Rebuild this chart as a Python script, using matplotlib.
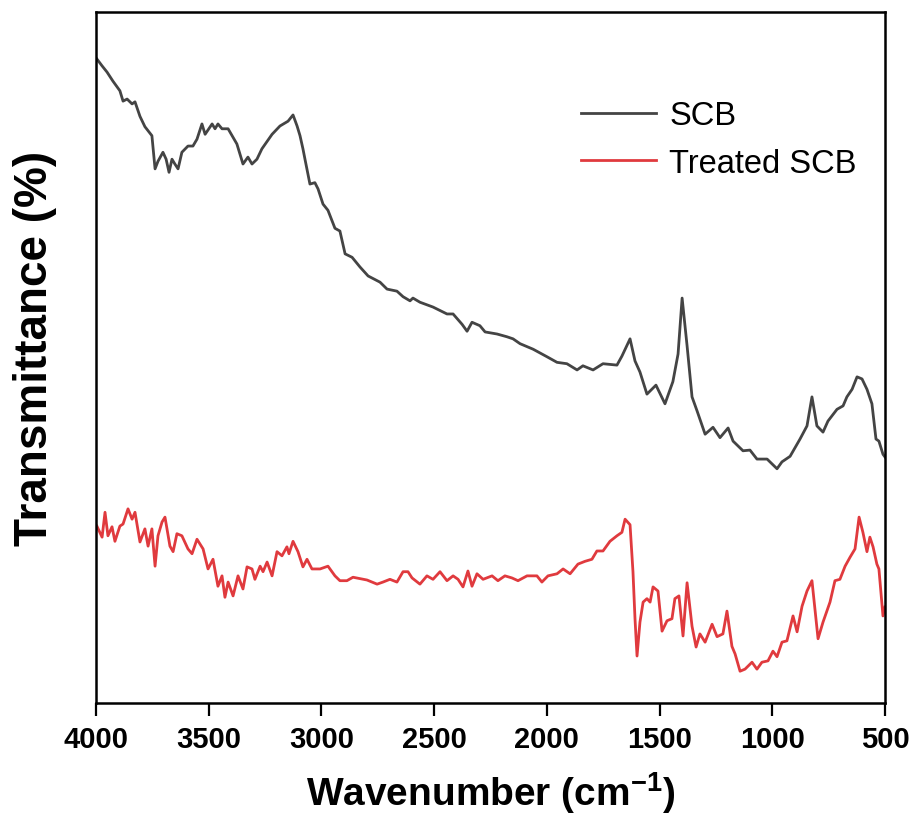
import numpy as np
import matplotlib.pyplot as plt
from matplotlib import font_manager

# FTIR spectra (transmittance in arbitrary % units)
scb_wn = [3996, 3973, 3951, 3925, 3894, 3880, 3862, 3840, 3827, 3805, 3783, 3752, 3738, 3725,
          3703, 3689, 3676, 3663, 3650, 3636, 3619, 3592, 3570, 3552, 3530, 3516, 3485, 3472,
          3459, 3441, 3414, 3375, 3348, 3326, 3308, 3286, 3264, 3219, 3184, 3148, 3126, 3108,
          3095, 3082, 3073, 3051, 3029, 3015, 2993, 2971, 2940, 2918, 2895, 2864, 2829, 2793,
          2740, 2709, 2665, 2638, 2607, 2594, 2563, 2505, 2443, 2416, 2376, 2354, 2332, 2297,
          2274, 2221, 2177, 2150, 2119, 2061, 1999, 1955, 1911, 1866, 1840, 1795, 1751, 1689,
          1667, 1631, 1609, 1587, 1556, 1516, 1476, 1441, 1418, 1400, 1378, 1356, 1334, 1298,
          1263, 1232, 1196, 1174, 1130, 1099, 1068, 1023, 979, 957, 921, 877, 846, 824, 802,
          775, 753, 713, 686, 669, 646, 624, 602, 580, 558, 540, 527, 509, 500]
scb_t = [93.2, 92.2, 91.3, 90.0, 88.6, 87.1, 87.4, 86.7, 87.0, 84.9, 83.4, 82.1, 77.3, 78.4,
         79.7, 78.7, 76.8, 78.7, 78.0, 77.3, 79.7, 80.6, 80.6, 81.6, 83.8, 82.3, 83.8, 83.1,
         83.8, 83.1, 83.1, 80.9, 78.0, 79.0, 78.0, 78.7, 80.2, 82.3, 83.5, 84.2, 85.1, 83.5,
         82.1, 80.2, 78.7, 75.1, 75.3, 74.4, 72.2, 71.3, 68.7, 68.3, 65.0, 64.5, 63.1, 61.8,
         60.9, 59.9, 59.6, 58.8, 58.2, 58.6, 58.0, 57.3, 56.3, 56.3, 54.8, 53.8, 55.1, 54.6,
         53.7, 53.4, 53.0, 52.7, 52.0, 51.2, 50.1, 49.3, 49.1, 48.2, 48.8, 48.2, 49.1, 48.9,
         50.2, 52.7, 49.5, 47.9, 44.7, 46.0, 43.3, 46.5, 50.5, 58.6, 51.7, 44.3, 42.3, 38.9,
         39.9, 38.4, 39.8, 37.9, 36.5, 36.6, 35.3, 35.3, 33.9, 34.9, 35.7, 38.2, 40.1, 44.3, 40.1,
         39.2, 40.8, 42.5, 43.0, 44.3, 45.4, 47.2, 46.9, 45.4, 43.3, 38.2, 37.9, 36.0, 35.6]

treated_wn = [3996, 3973, 3960, 3947, 3929, 3916, 3894, 3880, 3858, 3840, 3827, 3805, 3783, 3769,
              3752, 3738, 3725, 3707, 3694, 3672, 3658, 3641, 3619, 3592, 3574, 3552, 3525, 3503,
              3481, 3459, 3441, 3428, 3414, 3392, 3370, 3348, 3330, 3308, 3295, 3272, 3259, 3241,
              3219, 3197, 3175, 3153, 3144, 3126, 3104, 3082, 3064, 3042, 3006, 2971, 2940, 2918,
              2887, 2860, 2798, 2753, 2727, 2696, 2665, 2638, 2616, 2598, 2563, 2532, 2505, 2474,
              2443, 2416, 2394, 2372, 2350, 2332, 2310, 2283, 2243, 2217, 2186, 2155, 2128, 2088,
              2044, 2022, 1995, 1955, 1928, 1897, 1862, 1831, 1800, 1778, 1751, 1720, 1689, 1667,
              1653, 1631, 1618, 1609, 1600, 1587, 1573, 1556, 1542, 1529, 1507, 1489, 1467, 1445,
              1432, 1414, 1396, 1378, 1356, 1338, 1321, 1298, 1267, 1245, 1219, 1201, 1179, 1165,
              1143, 1121, 1090, 1068, 1046, 1019, 997, 979, 957, 935, 908, 890, 868, 846, 824, 797,
              775, 744, 722, 700, 677, 655, 633, 615, 598, 580, 567, 553, 536, 527, 509, 500]
treated_t = [25.6, 24.0, 27.6, 24.2, 25.5, 23.4, 25.6, 25.9, 28.1, 26.6, 27.6, 23.3, 25.2, 22.7,
             25.2, 19.8, 24.2, 26.2, 26.9, 22.7, 21.9, 24.5, 24.2, 22.3, 21.6, 23.7, 22.3, 19.4,
             20.8, 16.9, 18.4, 15.3, 17.5, 15.5, 18.4, 16.5, 19.7, 19.4, 17.9, 19.8, 19.0, 20.4,
             18.4, 21.9, 21.3, 22.6, 21.6, 23.4, 21.9, 19.7, 20.8, 19.4, 19.4, 19.8, 18.4, 17.7,
             17.7, 18.2, 17.8, 17.2, 17.5, 17.9, 17.5, 19.0, 19.0, 18.1, 17.2, 18.4, 17.9, 19.0,
             17.7, 18.4, 17.9, 16.8, 19.1, 16.9, 18.7, 17.9, 18.4, 17.7, 18.4, 18.1, 17.7, 18.4,
             18.4, 17.5, 18.4, 18.7, 19.4, 18.7, 20.1, 20.5, 20.8, 22.0, 22.0, 23.4, 24.2, 24.7,
             26.6, 25.8, 19.0, 12.2, 6.8, 11.7, 14.6, 15.1, 14.6, 16.8, 16.2, 10.4, 11.9, 12.2,
             15.1, 15.5, 9.7, 17.4, 11.1, 8.1, 10.0, 8.8, 11.4, 9.6, 10.0, 13.3, 8.2, 7.1,
             4.6, 4.9, 5.9, 4.9, 5.9, 6.1, 7.5, 6.7, 8.8, 9.0, 12.6, 10.3, 14.0, 16.2, 17.7, 9.3,
             11.7, 14.6, 17.7, 17.9, 19.8, 21.1, 22.3, 26.9, 24.7, 21.9, 24.0, 22.6, 20.1, 19.4, 12.6, 13.9]

x_ticks = [4000, 3500, 3000, 2500, 2000, 1500, 1000, 500]

installed = {f.name for f in font_manager.fontManager.ttflist}
narrow = "Liberation Sans Narrow" if "Liberation Sans Narrow" in installed else "Liberation Sans"

plt.rcParams["font.family"] = ["Liberation Sans", "DejaVu Sans"]
plt.rcParams["mathtext.fontset"] = "custom"
plt.rcParams["mathtext.rm"] = f"{narrow}:bold"

fig = plt.figure(figsize=(9.09, 8.28), dpi=100)
ax = fig.add_axes([96 / 909, 1 - 704 / 828, 789 / 909, 691 / 828])

ax.plot(scb_wn, scb_t, color="#444444", linewidth=2.0, label="SCB")
ax.plot(treated_wn, treated_t, color="#e03a3e", linewidth=2.0, label="Treated SCB")

ax.set_xlim(4000, 500)
ax.set_ylim(0, 100)
ax.set_xticks(x_ticks)
ax.set_yticks([])
ax.tick_params(axis="x", direction="out", length=9.5, width=1.6, pad=6)
for lab in ax.get_xticklabels():
    lab.set_fontfamily(narrow)
    lab.set_fontweight("bold")
    lab.set_fontsize(21)
for sp in ax.spines.values():
    sp.set_linewidth(1.8)

ax.set_xlabel(r"Wavenumber (cm$^{\mathrm{-1}}$)", fontfamily=narrow, fontweight="bold",
              fontsize=28, labelpad=12)
ax.set_ylabel("Transmittance (%)", fontweight="bold", fontsize=33)
ax.yaxis.set_label_coords(-0.05, 0.515)

ax.legend(loc="upper left", bbox_to_anchor=(0.615, 0.872), frameon=False, fontsize=23.5,
          handlelength=2.3, handletextpad=0.4, labelspacing=0.5, borderpad=0, borderaxespad=0)

fig.savefig("out.png", dpi=100)
